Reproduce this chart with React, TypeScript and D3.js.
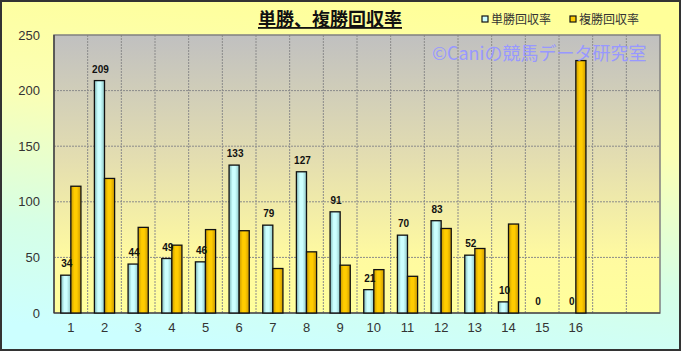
import React, { useEffect } from 'react';
import * as d3 from 'd3';

const categories = ['1', '2', '3', '4', '5', '6', '7', '8', '9', '10', '11', '12', '13', '14', '15', '16'];
const emptySlots = 2;
const winReturn = [34, 209, 44, 49, 46, 133, 79, 127, 91, 21, 70, 83, 52, 10, 0, 0];
const placeReturn = [114, 121, 77, 61, 75, 74, 40, 55, 43, 39, 33, 76, 58, 80, 0, 227];
const yTicks = [0, 50, 100, 150, 200, 250];
const seriesNames = ['単勝回収率', '複勝回収率'];

const W = 681;
const H = 351;
const plot = { left: 54, right: 660, top: 35, bottom: 313 };
const font = '"Noto Sans CJK JP", "DejaVu Sans", sans-serif';
const numFont = '"Liberation Sans", Arial, sans-serif';

function App() {
  useEffect(() => {
    document.body.style.margin = '0';
  }, []);

  const slots = d3.range(categories.length + emptySlots);
  const x = d3.scaleBand<number>()
    .domain(slots)
    .range([plot.left, plot.right])
    .paddingInner(0.4)
    .paddingOuter(0.2);
  const step = x.step();
  const barW = x.bandwidth() / 2;

  const y = d3.scaleLinear().domain([0, 250]).range([plot.bottom, plot.top]);

  return (
    <svg width={W} height={H} style={{ display: 'block' }}>
      <defs>
        <linearGradient id="outerBg" x1="0.6" y1="0" x2="0.4" y2="1">
          <stop offset="0" stopColor="#ffff99" />
          <stop offset="0.35" stopColor="#fbffb4" />
          <stop offset="0.72" stopColor="#d6ffe6" />
          <stop offset="1" stopColor="#ccffff" />
        </linearGradient>
        <linearGradient id="plotBg" x1="0" y1="0" x2="0" y2="1">
          <stop offset="0" stopColor="#c0c0c0" />
          <stop offset="0.45" stopColor="#e4deb0" />
          <stop offset="0.8" stopColor="#fffaa0" />
          <stop offset="1" stopColor="#ffff9c" />
        </linearGradient>
        <linearGradient id="blueBar" x1="0" y1="0" x2="1" y2="0">
          <stop offset="0" stopColor="#7fb8b8" />
          <stop offset="0.35" stopColor="#ccffff" />
          <stop offset="0.6" stopColor="#ccffff" />
          <stop offset="1" stopColor="#8ec6c6" />
        </linearGradient>
        <linearGradient id="goldBar" x1="0" y1="0" x2="1" y2="0">
          <stop offset="0" stopColor="#c79a00" />
          <stop offset="0.35" stopColor="#ffcc00" />
          <stop offset="0.6" stopColor="#ffcc00" />
          <stop offset="1" stopColor="#cc9900" />
        </linearGradient>
      </defs>

      {/* chart area */}
      <rect x={1} y={1} width={W - 2} height={H - 2} fill="url(#outerBg)" stroke="#333" strokeWidth={2} />

      {/* plot area */}
      <rect x={plot.left} y={plot.top} width={plot.right - plot.left} height={plot.bottom - plot.top} fill="url(#plotBg)" />

      {/* grid */}
      {yTicks.slice(1, -1).map(t => (
        <line key={'gy' + t} x1={plot.left} x2={plot.right} y1={y(t)} y2={y(t)}
          stroke="#8a8a8a" strokeWidth={1} strokeDasharray="2,1" />
      ))}
      {slots.slice(1).map(i => (
        <line key={'gx' + i} x1={plot.left + i * step} x2={plot.left + i * step} y1={plot.top} y2={plot.bottom}
          stroke="#8a8a8a" strokeWidth={1} strokeDasharray="2,1" />
      ))}

      {/* plot border */}
      <rect x={plot.left} y={plot.top} width={plot.right - plot.left} height={plot.bottom - plot.top}
        fill="none" stroke="#808080" strokeWidth={1.5} />
      <line x1={plot.left} x2={plot.left} y1={plot.top} y2={plot.bottom} stroke="#333" strokeWidth={1.2} />
      <line x1={plot.left} x2={plot.right} y1={plot.bottom} y2={plot.bottom} stroke="#333" strokeWidth={1.2} />

      {/* bars */}
      {categories.map((c, i) => {
        const x0 = x(i) as number;
        const wv = winReturn[i];
        const pv = placeReturn[i];
        return (
          <g key={c}>
            {wv > 0 && (
              <rect x={x0} y={y(wv)} width={barW} height={y(0) - y(wv)}
                fill="url(#blueBar)" stroke="#111" strokeWidth={1.3} />
            )}
            {pv > 0 && (
              <rect x={x0 + barW} y={y(pv)} width={barW} height={y(0) - y(pv)}
                fill="url(#goldBar)" stroke="#111" strokeWidth={1.3} />
            )}
            <text x={x0 + barW / 2 + 1} y={y(wv) - 8} textAnchor="middle"
              fontFamily={numFont} fontSize={10} fontWeight="bold" fill="#111">{wv}</text>
          </g>
        );
      })}

      {/* y axis labels */}
      {yTicks.map(t => (
        <text key={'yt' + t} x={40} y={y(t) + 4.5} textAnchor="end"
          fontFamily={numFont} fontSize={13} fill="#333">{t}</text>
      ))}

      {/* x axis labels */}
      {categories.map((c, i) => (
        <text key={'xt' + c} x={(x(i) as number) + x.bandwidth() / 2} y={332} textAnchor="middle"
          fontFamily={numFont} fontSize={13} fill="#333">{c}</text>
      ))}

      {/* title */}
      <text x={330} y={26} textAnchor="middle" fontFamily={font} fontSize={18} fontWeight="bold"
        fill="#111" textDecoration="underline">単勝、複勝回収率</text>

      {/* legend */}
      {seriesNames.map((name, i) => (
        <g key={name} transform={`translate(${482 + i * 88},20)`}>
          <rect x={0} y={-4} width={6} height={6} fill={i === 0 ? '#ccffff' : '#ffcc00'} stroke="#111" strokeWidth={1.2} />
          <text x={9} y={4} fontFamily={font} fontSize={12} fill="#333">{name}</text>
        </g>
      ))}

      {/* watermark */}
      <text x={432} y={60} fontFamily={font} fontSize={18} fill="#9898ff">©Caniの競馬データ研究室</text>
    </svg>
  );
}

export default App;
